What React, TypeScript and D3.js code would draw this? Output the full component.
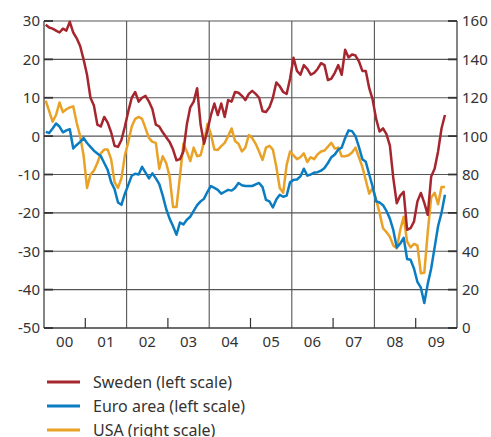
import React from 'react';
import * as d3 from 'd3';

const yearLabels = ['00', '01', '02', '03', '04', '05', '06', '07', '08', '09'];
const leftTicks = [30, 20, 10, 0, -10, -20, -30, -40, -50];
const rightTicks = [160, 140, 120, 100, 80, 60, 40, 20, 0];

// Monthly from Jan 2000, left scale
const sweden = [
  29, 28.3, 28, 27.5, 27, 28, 27.5, 29.8, 27, 25.5, 23.5, 20,
  16, 10, 8, 3, 2.5, 5, 3.5, 1, -2.5, -2.8, -1, 2.5,
  6.5, 10, 11.5, 9, 10, 10.5, 9, 7, 3, 2.5, 1, -0.3,
  -1.5, -3.5, -6.3, -6, -4, 3, 7.5, 9, 12.5, 3, -2, 1.5,
  5.5, 8.5, 5.5, 8.5, 5, 9.4, 9, 11.5, 11.3, 10.5, 9.4, 11,
  11.8, 11, 10, 6.5, 6.3, 7.5, 10, 14, 13, 11.5, 11, 15,
  20.4, 17, 16, 18.5, 17.5, 16, 16.5, 17.5, 19, 18.5, 14.6, 15,
  16.5, 18.5, 16, 22.5, 20.5, 21.3, 21, 19.5, 17, 17, 12.5, 9.5,
  4.5, 1.2, 2, 0.5, -2.5, -11, -17.5, -15.5, -14.5, -24.4, -24, -22.3,
  -17, -14.8, -17.4, -20.5, -10.5, -8.5, -4, 2, 5.5,
];

const euro = [
  1.1, 0.8, 2, 3.3, 2.5, 1, 1.5, 1.8, -3.2, -2.3, -1.5, -0.5,
  -1.8, -2.8, -3.8, -4.5, -5.2, -7, -8.8, -12, -13.8, -17.3, -17.9, -15,
  -12.7, -10.3, -9.8, -10, -8, -9.5, -11, -9.7, -11, -12.5, -15.5, -19,
  -21.5, -23.5, -25.7, -22.5, -23, -21.8, -21, -19.5, -18, -17, -16.3, -14.5,
  -13, -13.5, -14, -15, -14.5, -14, -14.2, -13.5, -12.2, -12.8, -13, -13,
  -13, -12.6, -12.2, -13.3, -16.6, -17, -18.6, -16.5, -15.3, -15.8, -15.5, -12,
  -11.4, -11.3, -10.5, -8.5, -10.3, -10, -9.5, -9.4, -9, -8.3, -7, -5.5,
  -4.8, -3.5, -3, -0.5, 1.5, 1.3, 0, -2.8, -6, -6.7, -10, -13.2,
  -17, -17.3, -18, -19.5, -21.5, -24.5, -29, -28, -26.5, -32, -32.2, -34.5,
  -38, -39.5, -43.5, -38.5, -34.5, -29, -23.5, -20, -15.3,
];

// right scale
const usa = [
  118.5, 113, 107.5, 111, 117.5, 112.5, 114, 115, 115.5, 107, 100, 90,
  73, 80, 82, 86, 91, 93, 93, 88, 76, 73, 78, 90,
  97, 105, 109, 110, 109, 104, 99, 97, 96.5, 83, 89.5, 86,
  79, 63, 63, 79, 96, 92, 87, 94, 89.5, 90, 97, 106.5,
  101, 93, 92.8, 94.8, 96.5, 100, 104, 97.5, 96, 92, 94, 100.6,
  99, 96, 92, 87.6, 94, 95, 93, 84, 73, 70.5, 85, 92,
  90, 88, 89, 91, 86.5, 89, 88, 90.5, 92, 92.5, 94.5, 96.5,
  93.5, 94, 89.5, 89.5, 90, 91.5, 94, 89, 84, 77, 70, 73,
  67, 60, 52, 50, 47.5, 43, 41.5, 51, 58, 45, 42, 43.8,
  43, 28.5, 28.8, 50, 68, 70.5, 64.5, 73.5, 73.5,
];

const seriesNames = ['Sweden (left scale)', 'Euro area (left scale)', 'USA (right scale)'];
const colors = ['#A5262E', '#0A7DC2', '#E9A126'];

const W = 491;
const H = 437;
const L = 44;
const R = 457;
const T = 21;
const B = 328;
const FONT = "'Noto Sans', 'Open Sans', sans-serif";
const TXT = '#333';

export default function App() {
  const x = d3.scaleLinear().domain([2000, 2010]).range([L, R]);
  const yL = d3.scaleLinear().domain([-50, 30]).range([B, T]);
  const yR = d3.scaleLinear().domain([0, 160]).range([B, T]);
  const t = (i: number) => 2000 + (i + 0.5) / 12;

  const lineL = d3.line<number>().x((_, i) => x(t(i))).y((d) => yL(d));
  const lineR = d3.line<number>().x((_, i) => x(t(i))).y((d) => yR(d));

  const gridYears = [2002, 2004, 2006, 2008];
  const tickYears = [2001, 2003, 2005, 2007, 2009];

  return (
    <svg width={W} height={H} style={{ position: 'absolute', left: 0, top: 0, background: '#fff' }}>
      {leftTicks.map((v) => (
        <line key={'h' + v} x1={L} x2={R} y1={yL(v)} y2={yL(v)} stroke="#555" strokeWidth={1.1} />
      ))}
      {gridYears.map((yr) => (
        <line key={'v' + yr} x1={x(yr)} x2={x(yr)} y1={T} y2={B} stroke="#555" strokeWidth={1.1} />
      ))}
      {leftTicks.map((v) => (
        <line key={'lt' + v} x1={L} x2={L + 9} y1={yL(v)} y2={yL(v)} stroke="#333" strokeWidth={1.8} />
      ))}
      {rightTicks.map((v) => (
        <line key={'rt' + v} x1={R - 9} x2={R} y1={yR(v)} y2={yR(v)} stroke="#333" strokeWidth={1.8} />
      ))}
      {tickYears.map((yr) => (
        <line key={'bt' + yr} x1={x(yr)} x2={x(yr)} y1={B} y2={B - 10} stroke="#333" strokeWidth={1.2} />
      ))}
      <line x1={L} x2={L} y1={T} y2={B} stroke="#333" strokeWidth={1.2} />
      <line x1={R} x2={R} y1={T} y2={B} stroke="#333" strokeWidth={1.2} />
      <line x1={L} x2={R} y1={B} y2={B} stroke="#333" strokeWidth={1.2} />

      <path d={lineR(usa) || ''} fill="none" stroke={colors[2]} strokeWidth={2.5} strokeLinejoin="round" />
      <path d={lineL(euro) || ''} fill="none" stroke={colors[1]} strokeWidth={2.5} strokeLinejoin="round" />
      <path d={lineL(sweden) || ''} fill="none" stroke={colors[0]} strokeWidth={2.5} strokeLinejoin="round" />

      {leftTicks.map((v) => (
        <text key={'ll' + v} x={40} y={yL(v)} dy="0.36em" textAnchor="end" fontFamily={FONT} fontSize={15} fill={TXT}>
          {String(v)}
        </text>
      ))}
      {rightTicks.map((v) => (
        <text key={'rl' + v} x={462} y={yR(v)} dy="0.36em" textAnchor="start" fontFamily={FONT} fontSize={15} fill={TXT}>
          {String(v)}
        </text>
      ))}
      {yearLabels.map((lab, i) => (
        <text key={'yl' + lab} x={x(2000 + i + 0.5)} y={347} textAnchor="middle" fontFamily={FONT} fontSize={15} fill={TXT}>
          {lab}
        </text>
      ))}

      {seriesNames.map((name, i) => (
        <g key={name}>
          <line x1={47} x2={80} y1={382 + i * 24} y2={382 + i * 24} stroke={colors[i]} strokeWidth={3} />
          <text x={93} y={382 + i * 24} dy="0.36em" fontFamily={FONT} fontSize={16} fill={TXT}>
            {name}
          </text>
        </g>
      ))}
    </svg>
  );
}
